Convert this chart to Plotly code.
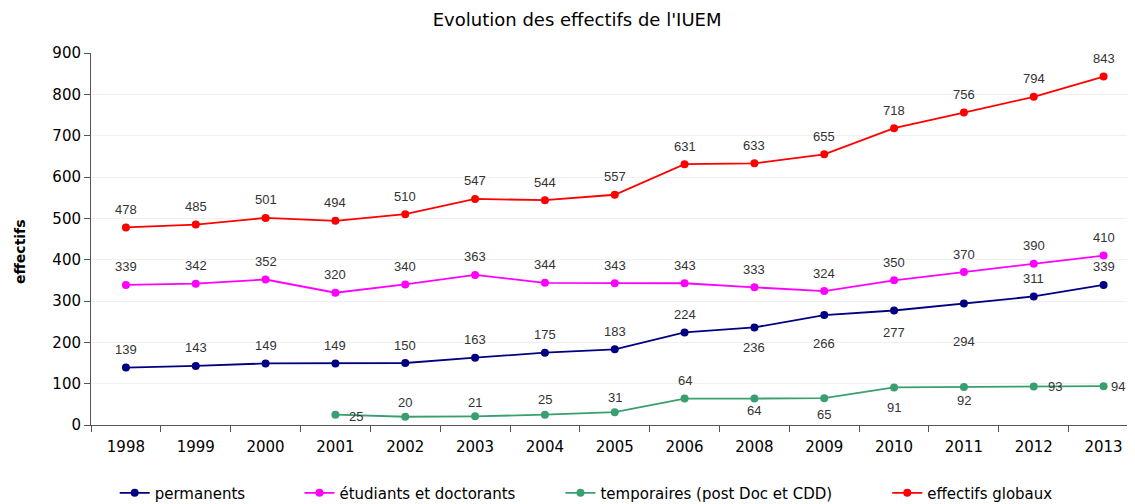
import plotly.graph_objects as go

years = ["1998", "1999", "2000", "2001", "2002", "2003", "2004", "2005",
         "2006", "2008", "2009", "2010", "2011", "2012", "2013"]
permanents = [139, 143, 149, 149, 150, 163, 175, 183, 224, 236, 266, 277, 294, 311, 339]
etudiants = [339, 342, 352, 320, 340, 363, 344, 343, 343, 333, 324, 350, 370, 390, 410]
temporaires = [None, None, None, 25, 20, 21, 25, 31, 64, 64, 65, 91, 92, 93, 94]
globaux = [478, 485, 501, 494, 510, 547, 544, 557, 631, 633, 655, 718, 756, 794, 843]

# label offsets (pixels): (dx, dy) with dy positive = upwards
UP = (0, 18)
off_perm = [UP] * 9 + [(0, -20), (0, -28), (0, -22), (0, -38)] + [UP] * 2
off_etu = [UP] * 15
off_temp = [None, None, None, (21, -2)] + [(0, 14), (0, 14), (0, 15), (0, 15), (0, 18)] + \
           [(0, -12), (0, -16), (0, -20), (0, -14)] + [(21, 0), (14, 0)]
off_glob = [UP] * 15

series = [
    ("permanents", permanents, "#000080", off_perm, "legend", 0.0227),
    ("étudiants et doctorants", etudiants, "#FF00FF", off_etu, "legend2", 0.1997),
    ("temporaires (post Doc et CDD)", temporaires, "#3A9F6E", off_temp, "legend3", 0.4497),
    ("effectifs globaux", globaux, "#FF0000", off_glob, "legend4", 0.7627),
]

TICKFONT = dict(family="DejaVu Sans", size=15, color="#000000")
LABELFONT = dict(family="Arial", size=13, color="#333333")

fig = go.Figure()
layout_legends = {}
annotations = [dict(
    text="<b>effectifs</b>", textangle=-90, showarrow=False,
    xref="paper", yref="paper", x=0, y=0.5, xanchor="center", yanchor="middle",
    xshift=-71, yshift=-13,
    font=dict(family="DejaVu Sans", size=14, color="#000000"),
)]
for name, vals, color, offs, leg, lx in series:
    fig.add_trace(go.Scatter(
        x=years, y=vals, name=name, mode="lines+markers",
        line=dict(color=color, width=1.8),
        marker=dict(color=color, size=8),
        connectgaps=False,
        legend=leg,
        cliponaxis=False,
    ))
    for idx, (v, o) in enumerate(zip(vals, offs)):
        if v is None:
            continue
        # category axis: annotation x is the category index
        annotations.append(dict(
            x=idx, y=v, xref="x", yref="y", text=str(v), showarrow=False,
            xanchor="center", yanchor="middle", xshift=o[0], yshift=o[1],
            font=LABELFONT,
        ))
    layout_legends[leg] = dict(
        x=lx, y=-0.183, xref="paper", yref="paper", xanchor="left", yanchor="middle",
        orientation="h", bgcolor="rgba(0,0,0,0)",
        font=TICKFONT,
        itemwidth=30,
    )

# the page body has an 8px margin, so the figure is drawn 8px smaller
fig.update_layout(
    width=1127, height=496,
    margin=dict(l=83, r=0, t=45, b=79, autoexpand=False),
    plot_bgcolor="white", paper_bgcolor="white",
    title=dict(text="Evolution des effectifs de l'IUEM", x=0.505, xref="container", xanchor="center",
               y=0.976, yref="container", yanchor="middle",
               font=dict(family="DejaVu Sans", size=18, color="#000000")),
    showlegend=True,
    annotations=annotations,
    **layout_legends,
)
fig.update_xaxes(
    type="category", range=[-0.5, 14.45],
    showline=True, linecolor="#555555", linewidth=1,
    ticks="outside", ticklen=6, tickcolor="#555555", tickson="boundaries",
    showgrid=False, ticklabelstandoff=8,
    tickfont=TICKFONT,
)
fig.update_yaxes(
    range=[0, 900], dtick=100,
    showline=True, linecolor="#555555", linewidth=1,
    ticks="outside", ticklen=6, tickcolor="#555555",
    showgrid=True, gridcolor="#F0F0F0", gridwidth=1,
    zeroline=False,
    tickfont=TICKFONT,
)

fig.write_html("out.html")
